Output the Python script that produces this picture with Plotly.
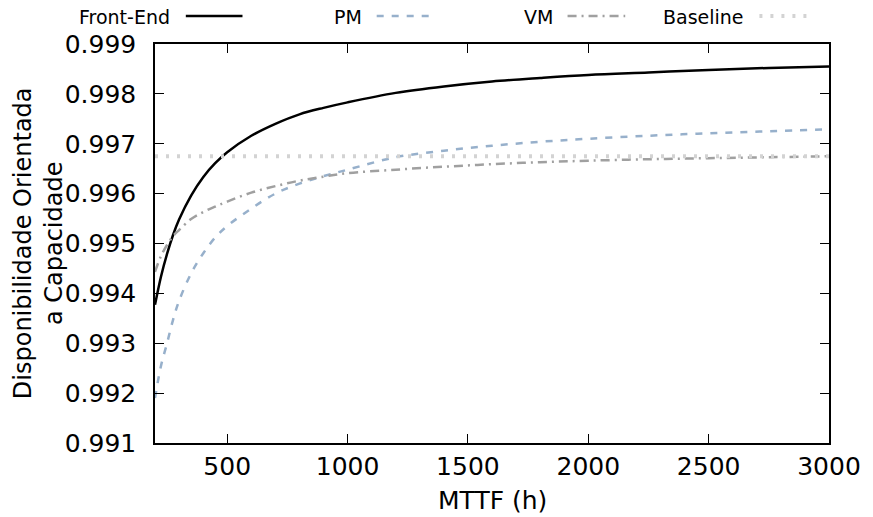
import plotly.graph_objects as go

# MTTF (h) sample points
mttf = [200, 225, 250, 275, 300, 350, 400, 450, 500, 600, 700, 800, 900,
        1000, 1200, 1400, 1600, 1800, 2000, 2250, 2500, 2750, 3000]

front_end = [0.99377, 0.99434, 0.99479, 0.99517, 0.99548, 0.99596, 0.99633,
             0.99661, 0.99683, 0.99716, 0.99740, 0.99759, 0.99772, 0.99783,
             0.99802, 0.99815, 0.99825, 0.99832, 0.99838, 0.99843, 0.99848,
             0.99852, 0.99855]

pm = [0.99190, 0.99255, 0.99300, 0.99347, 0.99385, 0.99440, 0.99480, 0.99512,
      0.99535, 0.99570, 0.99600, 0.99620, 0.99635, 0.99648, 0.99673, 0.99686,
      0.99696, 0.99704, 0.99710, 0.99716, 0.99721, 0.99725, 0.99729]

vm = [0.99443, 0.99475, 0.99497, 0.99515, 0.99527, 0.99549, 0.99563, 0.99574,
      0.99584, 0.99602, 0.99615, 0.99626, 0.99634, 0.99641, 0.99648, 0.99654,
      0.99659, 0.99663, 0.99666, 0.99669, 0.99671, 0.99673, 0.99675]

baseline_x = [200, 3000]
baseline_y = [0.99675, 0.99675]

x_ticks = [500, 1000, 1500, 2000, 2500, 3000]
y_ticks = [0.991, 0.992, 0.993, 0.994, 0.995, 0.996, 0.997, 0.998, 0.999]

FONT = "DejaVu Sans"
W, H = 873, 517
L, R, T, B = 155, 833, 44, 443

# styles: (color, width, dash)
styles = {
    'Front-End': ('#000000', 2.5, 'solid'),
    'PM': ('#97b0cb', 2.5, '7px,8px'),
    'VM': ('#a0a0a0', 2.5, '9px,5px,2px,5px'),
    'Baseline': ('#d3d3d3', 4, '3px,8px'),
}


def px_x(p):
    return (p - L) / (R - L)


def px_y(p):
    return (B - p) / (B - T)


fig = go.Figure()

for name, xs, ys in [('Front-End', mttf, front_end), ('PM', mttf, pm),
                     ('VM', mttf, vm), ('Baseline', baseline_x, baseline_y)]:
    color, width, dash = styles[name]
    fig.add_trace(go.Scatter(
        x=xs, y=ys, mode='lines', name=name,
        line=dict(color=color, width=width, dash=dash, shape='spline'),
        showlegend=False
    ))

# gnuplot-like key across the top: text then sample
key = [('Front-End', 172, 186, 243), ('PM', 365, 378, 431),
       ('VM', 557, 570, 628), ('Baseline', 750, 763, 813)]
for name, text_right, s0, s1 in key:
    color, width, dash = styles[name]
    fig.add_annotation(
        x=px_x(text_right), y=px_y(17), xref='paper', yref='paper',
        text=name, showarrow=False, xanchor='right', yanchor='middle',
        font=dict(family=FONT, size=19, color='black')
    )
    fig.add_shape(
        type='line', xref='paper', yref='paper',
        x0=px_x(s0), x1=px_x(s1), y0=px_y(16), y1=px_y(16),
        line=dict(color=color, width=width, dash=dash)
    )

fig.add_annotation(
    x=px_x(38), y=0.5, xref='paper', yref='paper',
    text='Disponibilidade Orientada<br>a Capacidade', textangle=-90,
    showarrow=False, xanchor='center', yanchor='middle',
    font=dict(family=FONT, size=24, color='black')
)

fig.add_annotation(
    x=px_x(494), y=px_y(500), xref='paper', yref='paper',
    text='MTTF (h)', showarrow=False, xanchor='center', yanchor='middle',
    font=dict(family=FONT, size=25, color='black')
)

fig.update_layout(
    width=W, height=H,
    paper_bgcolor='white',
    plot_bgcolor='white',
    margin=dict(l=L, r=W - R, t=T, b=H - B),
    font=dict(family=FONT, size=25, color='black'),
    showlegend=False,
    xaxis=dict(
        range=[200, 3000], tickvals=x_ticks,
        ticks='inside', ticklen=9, tickwidth=1.2, tickcolor='black',
        showline=True, linecolor='black', linewidth=1.5, mirror='ticks',
        showgrid=False, zeroline=False, ticklabelstandoff=0
    ),
    yaxis=dict(
        range=[0.991, 0.999], tickvals=y_ticks, tickformat='.3f',
        ticks='inside', ticklen=9, tickwidth=1.2, tickcolor='black',
        showline=True, linecolor='black', linewidth=1.5, mirror='ticks',
        showgrid=False, zeroline=False, ticklabelstandoff=12
    )
)

fig.write_html("out.html", config={'displayModeBar': False},
               post_script="document.body.style.margin='0';")
